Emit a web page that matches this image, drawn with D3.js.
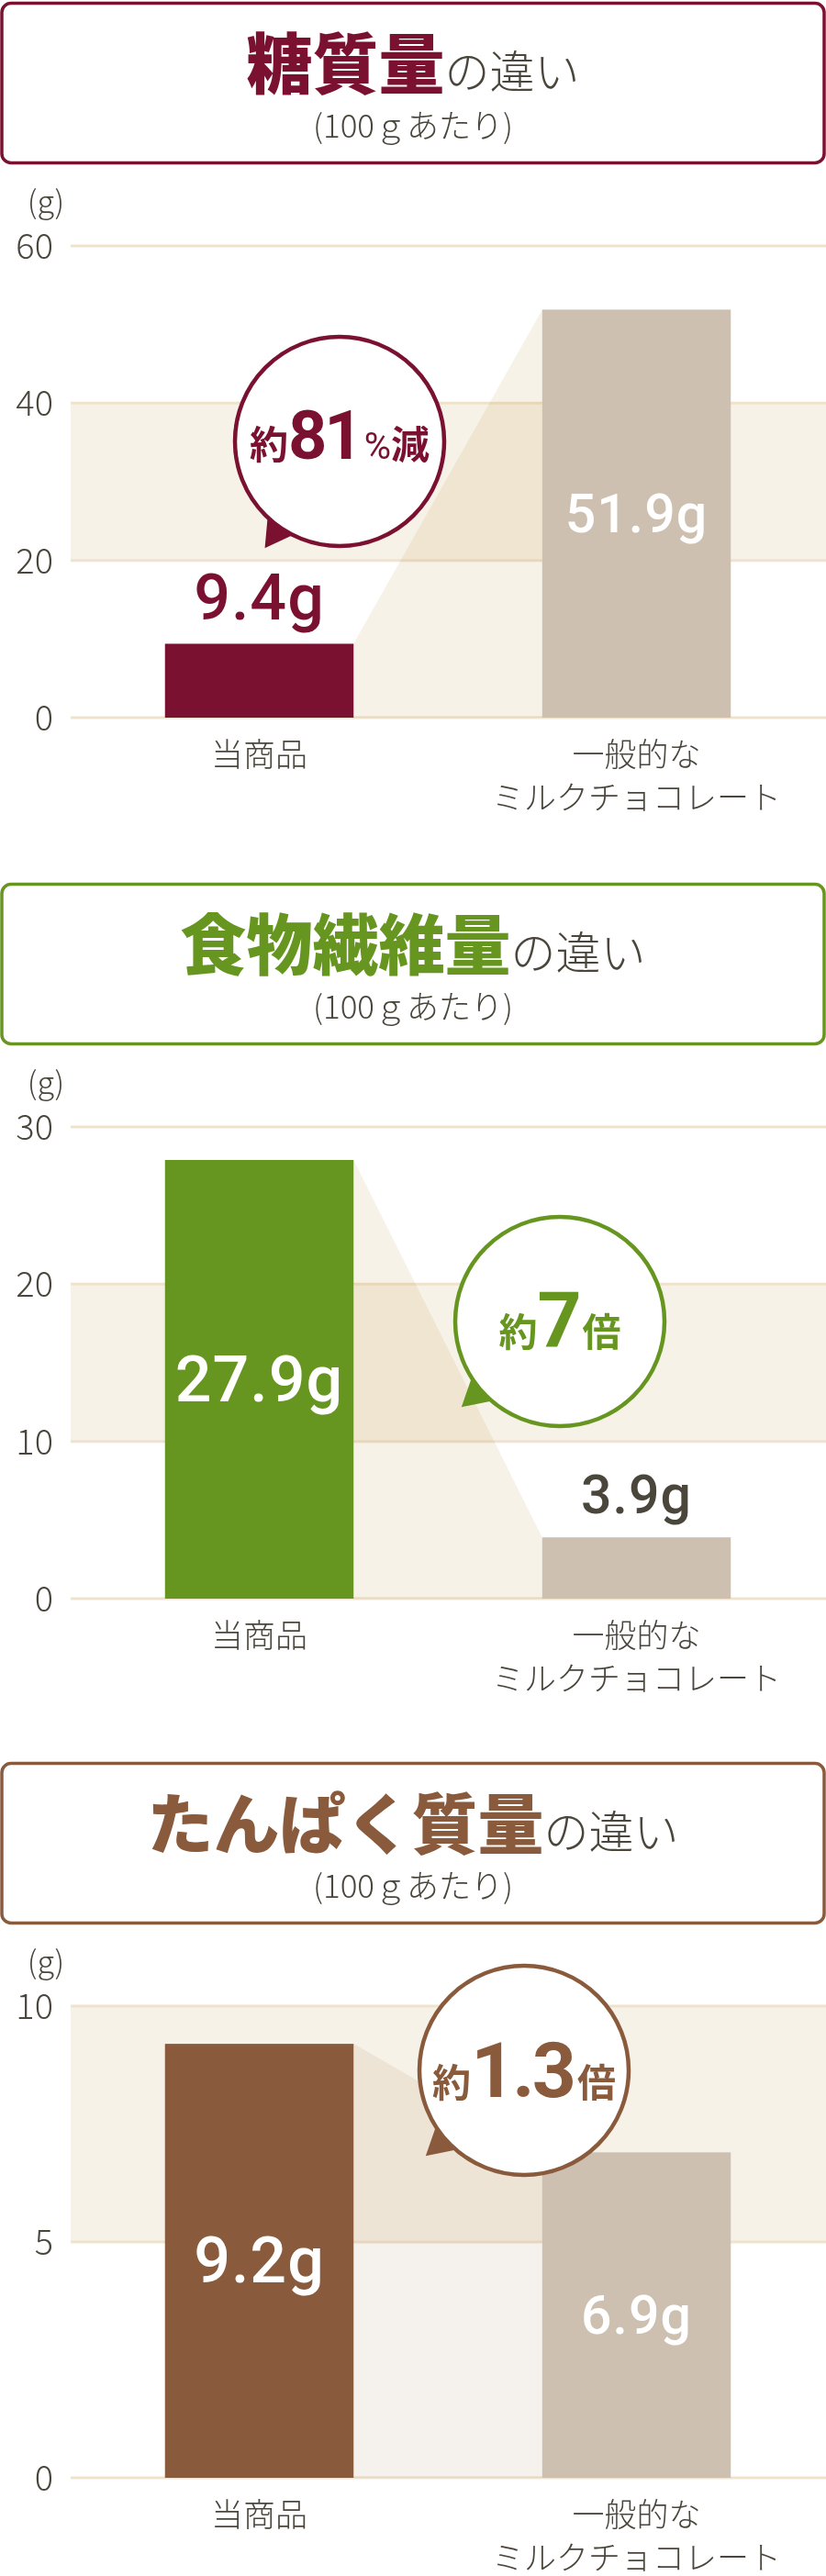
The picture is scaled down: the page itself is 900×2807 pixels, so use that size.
<!DOCTYPE html>
<html><head><meta charset="utf-8">
<script src="https://cdn.jsdelivr.net/npm/d3@7/dist/d3.min.js"></script>
<style>
body{margin:0;background:#fff}
svg{display:block}
</style>
</head><body>
<svg id="chart" width="900" height="2807"></svg>
<script>
// ---------- data ----------
const categories = ["当商品", "一般的な\nミルクチョコレート"];
const titles = ["糖質量", "食物繊維量", "たんぱく質量"];
const titleSuffix = "の違い";
const subtitle = "(100ｇあたり)";
const unitLabel = "(g)";
const sugarValues = [9.4, 51.9];
const fiberValues = [27.9, 3.9];
const proteinValues = [9.2, 6.9];
const sugarTicks = [0, 20, 40, 60];
const fiberTicks = [0, 10, 20, 30];
const proteinTicks = [0, 5, 10];
const sugarLabels = ["9.4g", "51.9g"];
const fiberLabels = ["27.9g", "3.9g"];
const proteinLabels = ["9.2g", "6.9g"];
const bubblePrefix = ["約", "約", "約"];
const bubbleNumber = ["81", "7", "1.3"];
const bubbleSuffix = ["%減", "倍", "倍"];

// ---------- styles / layout ----------
const JP = "'Noto Sans CJK JP','Noto Sans',sans-serif";
const NUM = "Roboto,'Liberation Sans',Arial,sans-serif";
const GRAY = "#4b463c";
const OTHER_BAR = "#cdc0b0";
const BAND = "#f7f2e7";
const GRID = "#f0e3cd";

const sections = [
  {title: titles[0], values: sugarValues, ticks: sugarTicks, labels: sugarLabels, color: "#7b1130",
   offset: 0, connector: "#f7f2e7", bubble: {x: 370, y: 481, tail: 125, dy: 19, num: 74, i: 0}},
  {title: titles[1], values: fiberValues, ticks: fiberTicks, labels: fiberLabels, color: "#66961f",
   offset: 960, connector: "#f7f2e7", bubble: {x: 610, y: 1440, tail: 139, dy: 27, num: 84, i: 1}},
  {title: titles[2], values: proteinValues, ticks: proteinTicks, labels: proteinLabels, color: "#8a5a3c",
   offset: 1918, connector: "#f5f1ec", bubble: {x: 571, y: 2256, tail: 139, dy: 29, num: 84, i: 2}}
];

const svg = d3.select("#chart");
const x = d3.scaleBand().domain(categories).range([77, 899]).paddingInner(0.5).paddingOuter(0.25);

sections.forEach((s, si) => {
  const g = svg.append("g").attr("transform", `translate(0,${s.offset})`);
  const y = d3.scaleLinear().domain([0, d3.max(s.ticks)]).range([782, 268]);

  // header box
  g.append("rect").attr("x", 2).attr("y", 3.5).attr("width", 896).attr("height", 174)
    .attr("rx", 10).attr("fill", "#fff").attr("stroke", s.color).attr("stroke-width", 3.5);
  const t = g.append("text").attr("x", 450).attr("y", 96).attr("text-anchor", "middle")
    .style("font-family", JP);
  t.append("tspan").text(s.title).attr("fill", s.color).style("font-size", "72px").style("font-weight", 900);
  t.append("tspan").text(titleSuffix).attr("fill", GRAY).style("font-size", "49px").style("font-weight", 300);
  g.append("text").attr("x", 450).attr("y", 150).attr("text-anchor", "middle")
    .style("font-family", JP).style("font-size", "35px").style("font-weight", 300)
    .attr("fill", GRAY).text(subtitle);

  // alternating bands
  const bands = d3.pairs(s.ticks).filter((p, i) => i % 2 === 1);
  g.selectAll(".band").data(bands).join("rect")
    .attr("x", 77).attr("width", 823)
    .attr("y", d => y(d[1])).attr("height", d => y(d[0]) - y(d[1]))
    .attr("fill", BAND);

  // gridlines
  g.selectAll(".grid").data(s.ticks).join("line")
    .attr("x1", 77).attr("x2", 900).attr("y1", d => y(d)).attr("y2", d => y(d))
    .attr("stroke", GRID).attr("stroke-width", 3);

  // tick labels
  g.selectAll(".tick").data(s.ticks).join("text")
    .attr("x", 58).attr("y", d => y(d) + 14).attr("text-anchor", "end")
    .style("font-family", JP).style("font-size", "38px").style("font-weight", 300)
    .attr("fill", GRAY).text(d => d3.format("d")(d));
  g.append("text").attr("x", 50).attr("y", y(d3.max(s.ticks)) - 36).attr("text-anchor", "middle")
    .style("font-family", JP).style("font-size", "34px").style("font-weight", 300)
    .attr("fill", GRAY).text(unitLabel);

  // connector polygon
  const x0 = x(categories[0]) + x.bandwidth(), x1 = x(categories[1]);
  g.append("path")
    .attr("d", `M${x0},${y(s.values[0])}L${x1},${y(s.values[1])}L${x1},${y(0)}L${x0},${y(0)}Z`)
    .attr("fill", s.connector).style("mix-blend-mode", "multiply");

  // bars
  g.selectAll(".bar").data(s.values).join("rect")
    .attr("x", (d, i) => x(categories[i])).attr("width", x.bandwidth())
    .attr("y", d => y(d)).attr("height", d => y(0) - y(d))
    .attr("fill", (d, i) => i === 0 ? s.color : OTHER_BAR);

  // value labels
  s.values.forEach((v, i) => {
    const fs = i === 0 ? 70 : 59;
    const h = y(0) - y(v);
    const inside = h > 200;
    const cx = x(categories[i]) + x.bandwidth() / 2;
    const by = inside ? (y(v) + y(0)) / 2 + fs * 0.34 : y(v) - 26;
    g.append("text").attr("x", cx).attr("y", by).attr("text-anchor", "middle")
      .style("font-family", NUM).style("font-size", fs + "px").style("font-weight", 500)
      .style("letter-spacing", "1px")
      .attr("fill", inside ? "#fff" : (i === 0 ? s.color : GRAY))
      .text(s.labels[i]);
  });

  // category labels
  categories.forEach(c => {
    const lt = g.append("text").attr("x", x(c) + x.bandwidth() / 2).attr("y", 835)
      .attr("text-anchor", "middle").style("font-family", JP).style("font-size", "35px")
      .style("font-weight", 300).attr("fill", GRAY);
    c.split("\n").forEach((line, li) => {
      lt.append("tspan").attr("x", x(c) + x.bandwidth() / 2).attr("dy", li === 0 ? 0 : 47).text(line);
    });
  });

  // bubble
  const b = s.bubble;
  const by0 = b.y - s.offset;
  const r = 114;
  const rad = a => a * Math.PI / 180;
  const pt = (a, d) => [b.x + d * Math.cos(rad(a)), by0 + d * Math.sin(rad(a))];
  const tail = [pt(b.tail + 11, r - 6), pt(b.tail, 142), pt(b.tail - 11, r - 6)];
  g.append("path").attr("d", "M" + tail.map(p => p.join(",")).join("L") + "Z").attr("fill", s.color);
  g.append("circle").attr("cx", b.x).attr("cy", by0).attr("r", r)
    .attr("fill", "#fff").attr("stroke", s.color).attr("stroke-width", 4.5);
  const bt = g.append("text").attr("x", b.x).attr("y", by0 + b.dy).attr("text-anchor", "middle")
    .attr("fill", s.color);
  bt.append("tspan").text(bubblePrefix[b.i]).style("font-family", JP).style("font-size", "42px").style("font-weight", 700);
  bt.append("tspan").text(bubbleNumber[b.i]).style("font-family", NUM).style("font-size", b.num + "px")
    .style("font-weight", 700).style("letter-spacing", "-3px");
  const suf = bubbleSuffix[b.i];
  if (suf.startsWith("%")) {
    bt.append("tspan").text("%").attr("dx", 4).style("font-family", NUM).style("font-size", "40px").style("font-weight", 400);
    bt.append("tspan").text(suf.slice(1)).style("font-family", JP).style("font-size", "42px").style("font-weight", 700);
  } else {
    bt.append("tspan").text(suf).attr("dx", 4).style("font-family", JP).style("font-size", "42px").style("font-weight", 700);
  }
});
</script>
</body></html>
